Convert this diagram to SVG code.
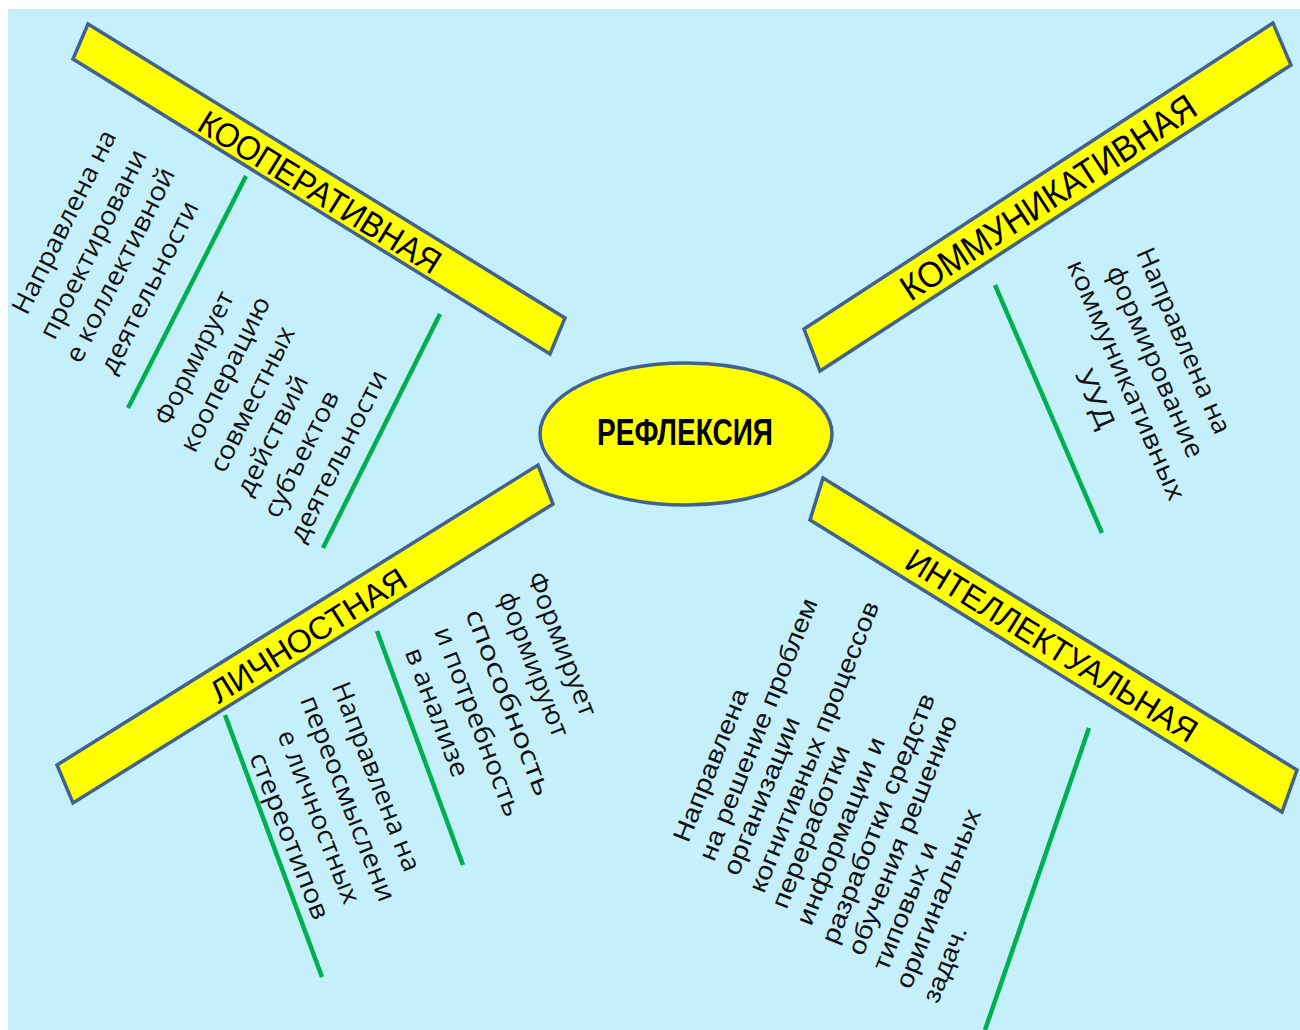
<svg xmlns="http://www.w3.org/2000/svg" width="1300" height="1030" viewBox="0 0 1300 1030">
<style>
.bar{fill:#FFFF00;stroke:#41628E;stroke-width:3.5;stroke-linejoin:miter}
.lbl{font-family:"Liberation Sans",Arial,sans-serif;fill:#000;text-anchor:middle}
.t{font-family:"Open Sans","Noto Sans","DejaVu Sans",sans-serif;font-size:26px;fill:#111;text-anchor:middle}
.a{font-family:"Liberation Sans",Arial,sans-serif;font-size:25px;fill:#111;text-anchor:middle}
.g{stroke:#00B050;stroke-width:4.5;stroke-linecap:butt}
</style>
<rect x="0" y="0" width="1300" height="1030" fill="#FFFFFF"/>
<rect x="8" y="9" width="1292" height="1021" fill="#C6EFFC"/>

<g id="connectors">
<line class="g" x1="246" y1="176" x2="128" y2="408"/>
<line class="g" x1="440" y1="314" x2="323" y2="548"/>
<line class="g" x1="995" y1="285" x2="1102" y2="533"/>
<line class="g" x1="225" y1="715" x2="322" y2="977"/>
<line class="g" x1="377" y1="631" x2="463" y2="865"/>
<line class="g" x1="1089" y1="728" x2="985" y2="1030"/>
</g>

<g id="center">
<ellipse cx="686" cy="434" rx="146" ry="71" fill="#FFFF00" stroke="#41628E" stroke-width="3.5"/>
<text class="lbl" x="685" y="445" font-size="37" font-weight="700" textLength="176" lengthAdjust="spacingAndGlyphs">РЕФЛЕКСИЯ</text>
</g>

<g id="cooperative">
<polygon class="bar" points="88,24 565,318 550,354 73,59"/>
<text class="lbl" font-size="34" transform="translate(320,192) rotate(31.7)" y="12" textLength="278" lengthAdjust="spacingAndGlyphs">КООПЕРАТИВНАЯ</text>
<g id="coop-text-1">
<text class="t" transform="translate(72,226) rotate(-63.5)" textLength="202" lengthAdjust="spacingAndGlyphs">Направлена на</text>
<text class="t" transform="translate(101,248) rotate(-63.5)" textLength="208" lengthAdjust="spacingAndGlyphs">проектировани</text>
<text class="t" transform="translate(128,269) rotate(-63.5)" textLength="214" lengthAdjust="spacingAndGlyphs">е коллективной</text>
<text class="t" transform="translate(157,291) rotate(-63.5)" textLength="189" lengthAdjust="spacingAndGlyphs">деятельности</text>
</g>
<g id="coop-text-2">
<text class="t" transform="translate(202,362) rotate(-63.5)" textLength="146" lengthAdjust="spacingAndGlyphs">Формирует</text>
<text class="t" transform="translate(233,378) rotate(-63.5)" textLength="170" lengthAdjust="spacingAndGlyphs">кооперацию</text>
<text class="t" transform="translate(260,403) rotate(-63.5)" textLength="159" lengthAdjust="spacingAndGlyphs">совместных</text>
<text class="t" transform="translate(280,439) rotate(-63.5)" textLength="131" lengthAdjust="spacingAndGlyphs">действий</text>
<text class="t" transform="translate(309,458) rotate(-63.5)" textLength="138" lengthAdjust="spacingAndGlyphs">субъектов</text>
<text class="t" transform="translate(346,460) rotate(-63.5)" textLength="188" lengthAdjust="spacingAndGlyphs">деятельности</text>
</g>
</g>

<g id="communicative">
<polygon class="bar" points="804,329 1273,23 1291,65 820,371"/>
<text class="lbl" font-size="36" transform="translate(1048,197) rotate(-33.1)" y="13" textLength="345" lengthAdjust="spacingAndGlyphs">КОММУНИКАТИВНАЯ</text>
<g id="comm-text">
<text class="t" transform="translate(1175.7,344.3) rotate(66.5)" textLength="200" lengthAdjust="spacingAndGlyphs">Направлена на</text>
<text class="t" transform="translate(1147.3,365.1) rotate(66.5)" textLength="207" lengthAdjust="spacingAndGlyphs">формирование</text>
<text class="t" transform="translate(1118.2,383.4) rotate(66.5)" textLength="259" lengthAdjust="spacingAndGlyphs">коммуникативных</text>
<text class="t" transform="translate(1087,402.5) rotate(66.5)" textLength="62" lengthAdjust="spacingAndGlyphs">УУД</text>
</g>
</g>

<g id="personal">
<polygon class="bar" points="57,765 538,465 553,504 73,803"/>
<text class="lbl" font-size="32" transform="translate(308,635) rotate(-31.9)" y="11.5" textLength="225" lengthAdjust="spacingAndGlyphs">ЛИЧНОСТНАЯ</text>
<g id="pers-text-1">
<text class="t" transform="translate(368.1,779.9) rotate(68.6)" textLength="201" lengthAdjust="spacingAndGlyphs">Направлена на</text>
<text class="t" transform="translate(339.7,801.6) rotate(68.6)" textLength="219" lengthAdjust="spacingAndGlyphs">переосмыслени</text>
<text class="t" transform="translate(310.6,819.9) rotate(68.6)" textLength="184" lengthAdjust="spacingAndGlyphs">е личностных</text>
<text class="t" transform="translate(281.4,839.1) rotate(68.6)" textLength="177" lengthAdjust="spacingAndGlyphs">стереотипов</text>
</g>
<g id="pers-text-2">
<text class="t" transform="translate(553.9,647.3) rotate(69)" textLength="152" lengthAdjust="spacingAndGlyphs">Формирует</text>
<text class="t" transform="translate(525.6,667.3) rotate(69)" textLength="154" lengthAdjust="spacingAndGlyphs">формируют</text>
<text class="t" font-size="28" transform="translate(500.6,705.6) rotate(69)" textLength="198" lengthAdjust="spacingAndGlyphs">способность</text>
<text class="t" transform="translate(469.7,724.8) rotate(69)" textLength="201" lengthAdjust="spacingAndGlyphs">и потребность</text>
<text class="t" transform="translate(428.9,715.6) rotate(69)" textLength="136" lengthAdjust="spacingAndGlyphs">в анализе</text>
</g>
</g>

<g id="intellectual">
<polygon class="bar" points="823,478 1297,770 1282,812 810,520"/>
<text class="lbl" font-size="33" transform="translate(1052,645) rotate(31.7)" y="12" textLength="336" lengthAdjust="spacingAndGlyphs">ИНТЕЛЛЕКТУАЛЬНАЯ</text>
<g id="intel-text">
<text class="a" transform="translate(718.5,768.2) rotate(-68.2)" textLength="163" lengthAdjust="spacingAndGlyphs">Направлена</text>
<text class="a" transform="translate(766,732.4) rotate(-68.2)" textLength="280" lengthAdjust="spacingAndGlyphs">на решение проблем</text>
<text class="a" transform="translate(769.3,799.1) rotate(-68.2)" textLength="168" lengthAdjust="spacingAndGlyphs">организации</text>
<text class="a" transform="translate(821.8,749.9) rotate(-68.2)" textLength="311" lengthAdjust="spacingAndGlyphs">когнитивных процессов</text>
<text class="a" transform="translate(818.5,829.9) rotate(-68.2)" textLength="173" lengthAdjust="spacingAndGlyphs">переработки</text>
<text class="a" transform="translate(848.5,834.1) rotate(-68.2)" textLength="200" lengthAdjust="spacingAndGlyphs">информации и</text>
<text class="a" transform="translate(886,821.6) rotate(-68.2)" textLength="267" lengthAdjust="spacingAndGlyphs">разработки средств</text>
<text class="a" transform="translate(910.2,838.2) rotate(-68.2)" textLength="256" lengthAdjust="spacingAndGlyphs">обучения решению</text>
<text class="a" transform="translate(912.7,909.1) rotate(-68.2)" textLength="136" lengthAdjust="spacingAndGlyphs">типовых и</text>
<text class="a" transform="translate(946,901.6) rotate(-68.2)" textLength="191" lengthAdjust="spacingAndGlyphs">оригинальных</text>
<text class="a" transform="translate(952.7,967.4) rotate(-68.2)" textLength="80" lengthAdjust="spacingAndGlyphs">задач.</text>
</g>
</g>
</svg>
